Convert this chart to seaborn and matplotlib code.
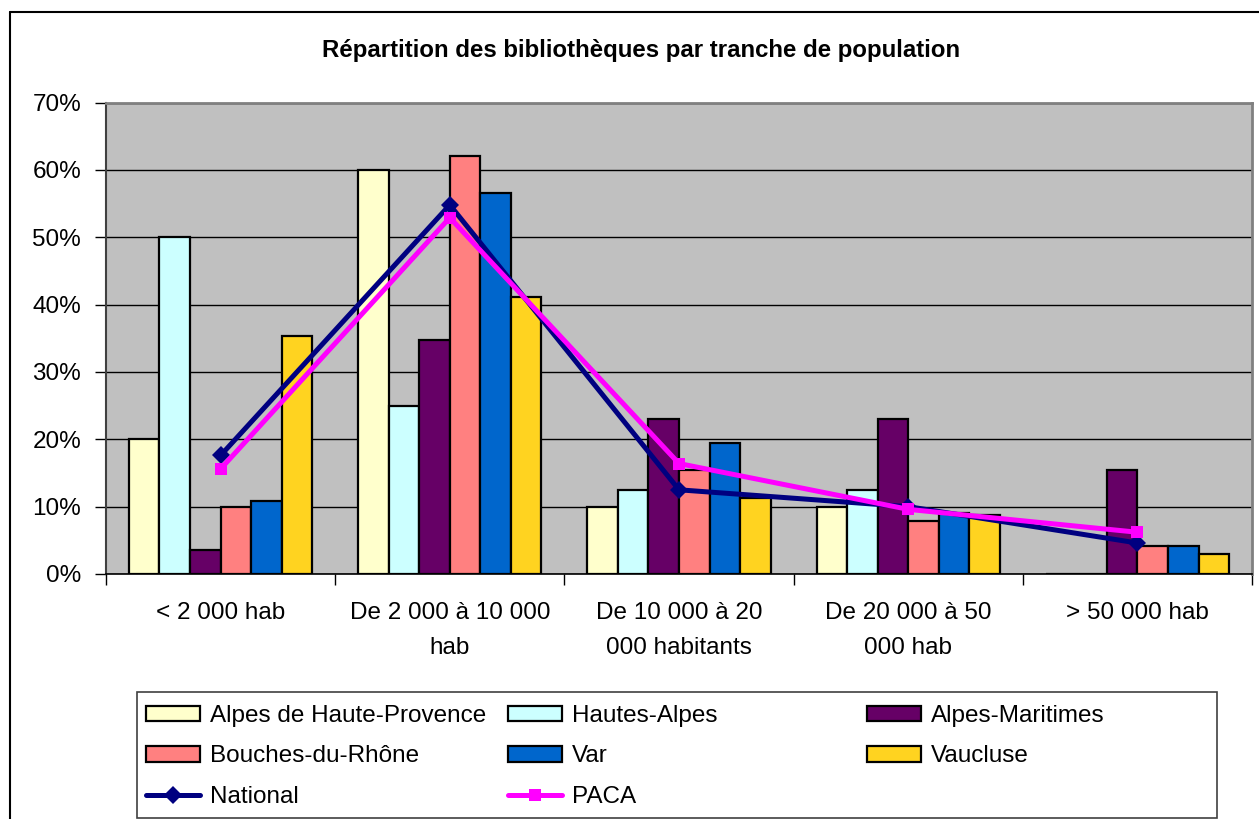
"""
Répartition des bibliothèques par tranche de population (PACA)
"""
import matplotlib
matplotlib.use("Agg")
import matplotlib.pyplot as plt
import matplotlib.patches as mpatches
from matplotlib.lines import Line2D
from matplotlib.ticker import FixedLocator, FuncFormatter
import numpy as np
import pandas as pd
import seaborn as sns

# Data (percentages)
tranches = ["< 2 000 hab", "De 2 000 à 10 000\nhab", "De 10 000 à 20\n000 habitants",
            "De 20 000 à 50\n000 hab", "> 50 000 hab"]
departements = ["Alpes de Haute-Provence", "Hautes-Alpes", "Alpes-Maritimes",
                "Bouches-du-Rhône", "Var", "Vaucluse"]
alpes_haute_provence = [20.0, 60.0, 10.0, 10.0, 0.0]
hautes_alpes = [50.0, 25.0, 12.4, 12.5, 0.0]
alpes_maritimes = [3.6, 34.7, 23.0, 23.0, 15.5]
bouches_du_rhone = [10.0, 62.1, 15.4, 7.8, 4.2]
var = [10.9, 56.5, 19.4, 9.0, 4.2]
vaucluse = [35.3, 41.1, 11.3, 8.8, 3.0]
national = [17.6, 54.8, 12.5, 10.0, 4.6]
paca = [15.6, 52.9, 16.4, 9.6, 6.2]

bar_colors = ["#FFFFCC", "#CCFFFF", "#660066", "#FF8080", "#0066CC", "#FFD320"]
line_colors = {"National": "#000080", "PACA": "#FF00FF"}
line_markers = {"National": "D", "PACA": "s"}

series = [alpes_haute_provence, hautes_alpes, alpes_maritimes,
          bouches_du_rhone, var, vaucluse]
bars_df = pd.DataFrame([
    {"tranche": t, "departement": d, "part": v}
    for d, vals in zip(departements, series)
    for t, v in zip(tranches, vals)
])
lines_df = pd.DataFrame([
    {"pos": i, "serie": name, "part": v}
    for name, vals in [("National", national), ("PACA", paca)]
    for i, v in enumerate(vals)
])

FONT = ["Liberation Sans", "DejaVu Sans"]
FS = 17.5
sns.set_style("white")
plt.rcParams["font.family"] = FONT
plt.rcParams["text.color"] = "black"
plt.rcParams["xtick.color"] = "black"
plt.rcParams["ytick.color"] = "black"

W, H = 1259, 819
fig = plt.figure(figsize=(W / 100, H / 100), dpi=100)
ax = fig.add_axes([106 / W, 1 - 574 / H, (1252 - 106) / W, (574 - 102.5) / H])
ax.set_facecolor("#C0C0C0")

sns.barplot(data=bars_df, x="tranche", y="part", hue="departement",
            order=tranches, hue_order=departements, palette=bar_colors,
            saturation=1, width=0.8, edgecolor="black", linewidth=1.6,
            legend=False, ax=ax, zorder=2)

sns.lineplot(data=lines_df, x="pos", y="part", hue="serie", style="serie",
             hue_order=["National", "PACA"], style_order=["National", "PACA"],
             palette=line_colors, markers=line_markers, dashes=False,
             markersize=9, markeredgewidth=0, linewidth=3.6,
             legend=False, ax=ax, zorder=4)

# axes styling
ax.set_xlim(-0.5, 4.5)
ax.set_ylim(0, 70)
ax.set_xlabel("")
ax.set_ylabel("")
ax.set_axisbelow(True)
ax.yaxis.grid(True, color="black", linewidth=1.0)
ax.xaxis.grid(False)

ax.set_yticks(np.arange(0, 71, 10))
ax.yaxis.set_major_formatter(FuncFormatter(lambda v, _: f"{int(v)}%"))
ax.tick_params(axis="y", direction="out", length=8, width=1, pad=10,
               labelsize=FS, left=True, colors="black")

ax.set_xticks(range(len(tranches)))
ax.set_xticklabels(tranches, linespacing=1.8)
ax.xaxis.set_minor_locator(FixedLocator(np.arange(-0.5, 5, 1)))
ax.tick_params(axis="x", which="major", length=0, pad=20, labelsize=FS)
ax.tick_params(axis="x", which="minor", direction="out", length=8, width=1,
               bottom=True)

for side in ["top", "right"]:
    ax.spines[side].set_color("#808080")
    ax.spines[side].set_linewidth(2)
ax.spines["left"].set_color("#404040")
ax.spines["left"].set_linewidth(1.5)
ax.spines["bottom"].set_color("black")
ax.spines["bottom"].set_linewidth(1.2)

# title
fig.text(641 / W, 1 - 50 / H,
         "Répartition des bibliothèques par tranche de population",
         ha="center", va="center", fontsize=17.3, fontweight="bold", color="black")

# outer chart border (left and top visible)
fig.add_artist(Line2D([9.5 / W, 9.5 / W], [0, 1 - 12 / H], transform=fig.transFigure,
                      color="black", linewidth=1.5))
fig.add_artist(Line2D([9.5 / W, 1], [1 - 12 / H, 1 - 12 / H], transform=fig.transFigure,
                      color="black", linewidth=1.5))

# legend frame
fig.add_artist(mpatches.Rectangle((137 / W, 1 - 818 / H), (1217 - 137) / W, (818 - 692) / H,
                                  transform=fig.transFigure, facecolor="white",
                                  edgecolor="#404040", linewidth=1.2, zorder=0))


def bar_handle(color):
    return mpatches.Patch(facecolor=color, edgecolor="black", linewidth=1.6)


def line_handle(name):
    return Line2D([], [], color=line_colors[name], marker=line_markers[name],
                  markersize=9, markeredgewidth=0, linewidth=3.6)


columns = [
    ([bar_handle(bar_colors[0]), bar_handle(bar_colors[3]), line_handle("National")],
     [departements[0], departements[3], "National"], 146),
    ([bar_handle(bar_colors[1]), bar_handle(bar_colors[4]), line_handle("PACA")],
     [departements[1], departements[4], "PACA"], 508),
    ([bar_handle(bar_colors[2]), bar_handle(bar_colors[5])],
     [departements[2], departements[5]], 867),
]
for handles, labels, x0 in columns:
    fig.legend(handles, labels, loc="upper left",
               bbox_to_anchor=(x0 / W, 1 - 705 / H), bbox_transform=fig.transFigure,
               frameon=False, fontsize=FS, borderpad=0, borderaxespad=0,
               handlelength=2.22, handleheight=0.62, handletextpad=0.41,
               labelspacing=0.76)

fig.savefig("out.png", dpi=100)
plt.close(fig)
